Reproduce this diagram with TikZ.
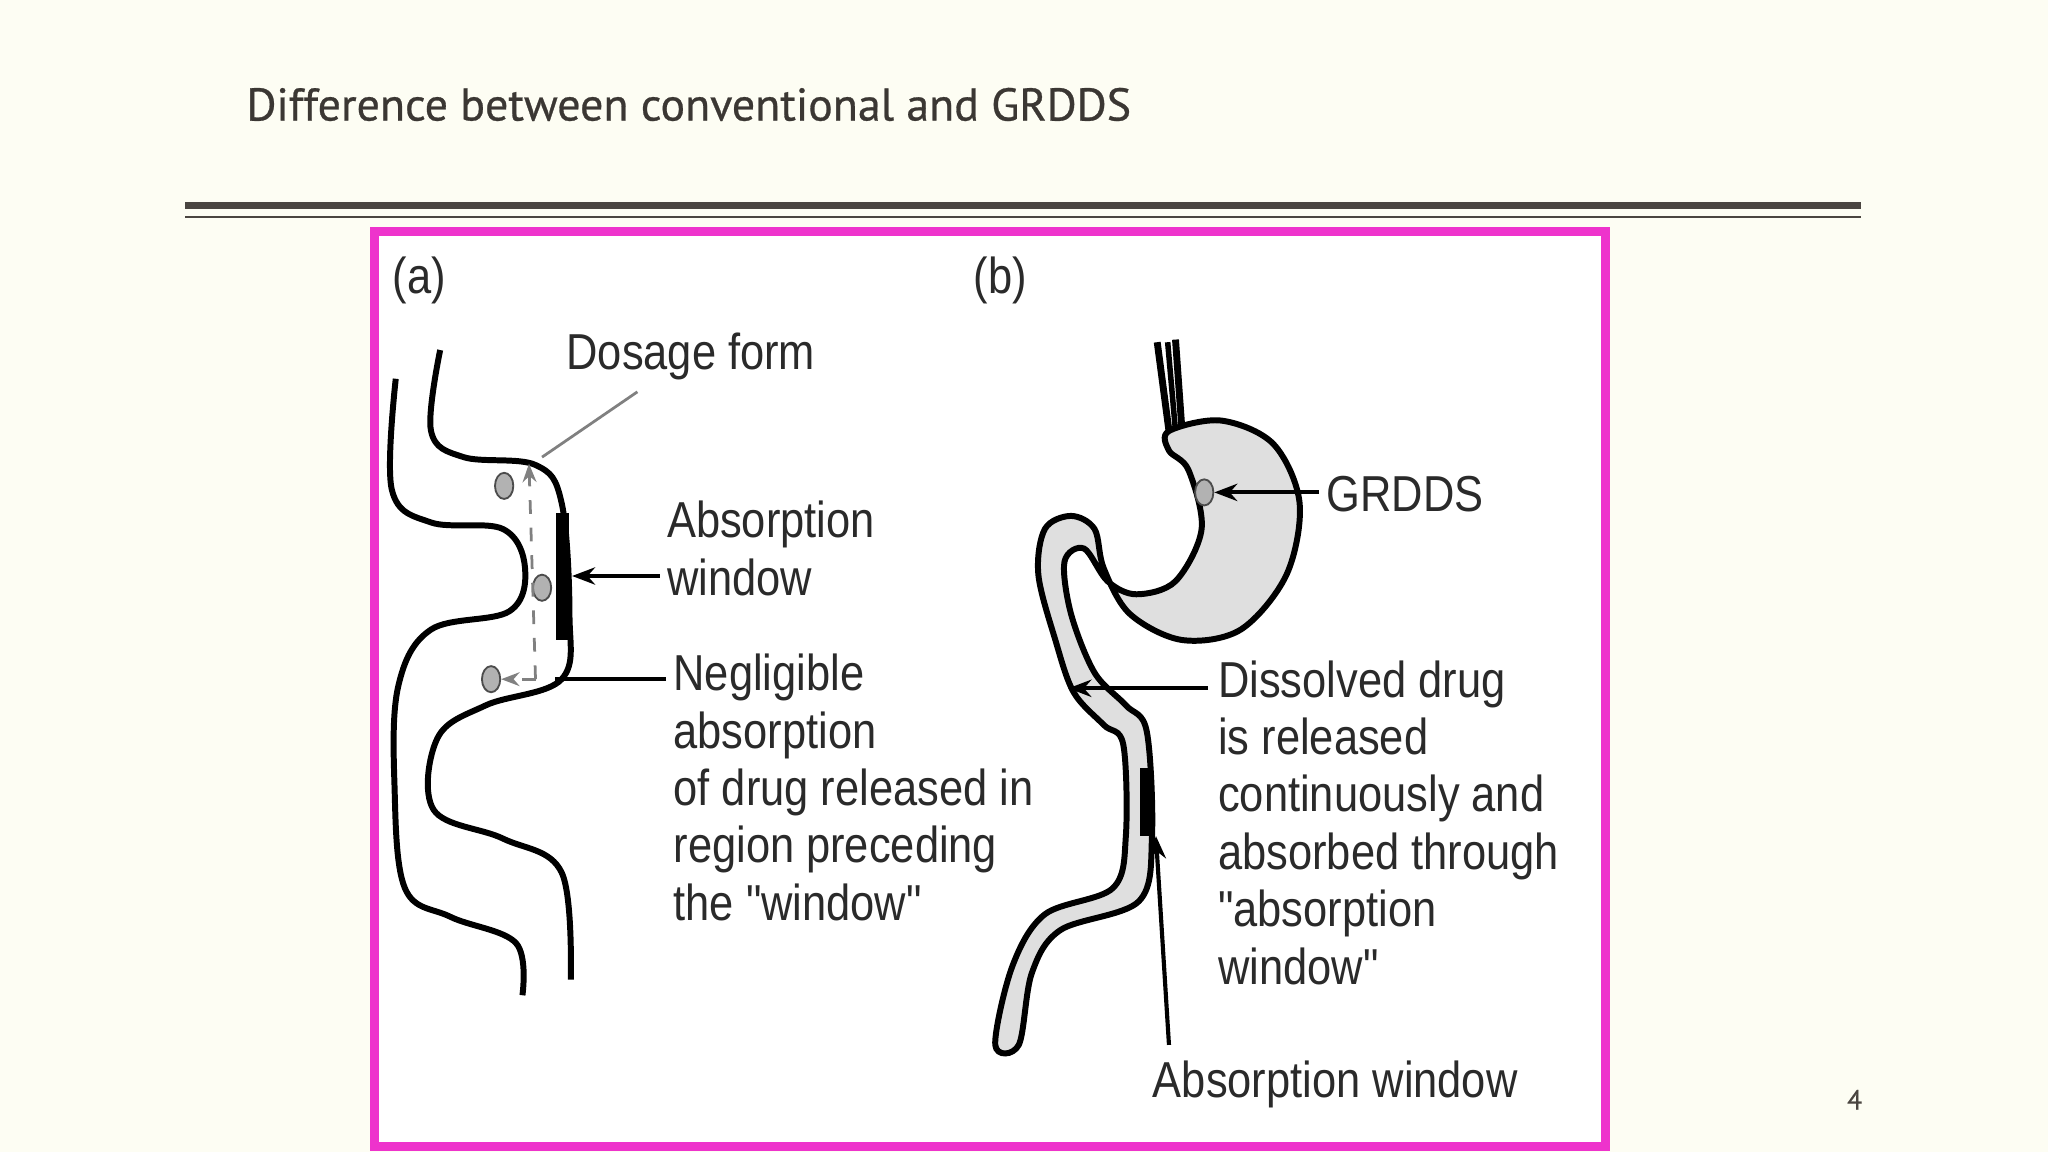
\documentclass[tikz,border=0pt]{standalone}
\usepackage{fontspec}
\setmainfont{Liberation Sans}
\newfontfamily\narrowfont[FakeStretch=0.86]{Liberation Sans}
\newfontfamily\titlefont[FakeBold=0.6]{PT Sans}
\usetikzlibrary{arrows.meta,shapes.geometric}
\definecolor{bg}{HTML}{FDFDF3}
\definecolor{rule}{HTML}{4A4540}
\definecolor{frame}{HTML}{EE33CC}
\definecolor{txt}{HTML}{2A2A2A}
\newcommand{\qd}{\symbol{34}}
\tikzset{
 lbl/.style={anchor=west,inner sep=0pt,font=\narrowfont\fontsize{11pt}{12.5pt}\selectfont,text=txt,align=left},
 wall/.style={line width=1.3pt,black},
 pellet/.style={ellipse,draw=black!70,fill=gray!60,minimum width=0.14cm,minimum height=0.2cm,inner sep=0pt},
 ptr/.style={line width=0.9pt,-{Stealth[length=5pt]}}
}
\begin{document}
\begin{tikzpicture}[x=0.01cm,y=-0.01cm]
\useasboundingbox (0,0) rectangle (1568,882);
\fill[bg] (0,0) rectangle (1568,882);
\node[anchor=west,inner sep=0pt,font=\titlefont\fontsize{10pt}{12pt}\selectfont,text=rule!80!black] (title) at (188,80) {Difference between conventional and GRDDS};
\draw[rule,line width=1.5pt] (142,157) -- (1425,157);
\draw[rule,line width=0.5pt] (142,166) -- (1425,166);
\draw[frame,line width=2pt,fill=white] (287,177) rectangle (1229,878);
\node[font=\titlefont\fontsize{6pt}{7pt}\selectfont,text=rule] (pg) at (1420,842) {4};
\node[lbl] (la) at (300,215) {(a)};
\node[lbl] (lb) at (745,215) {(b)};
% panel a walls
\draw[wall] plot[smooth,tension=0.6] coordinates {(303,290) (300,375) (330,400) (385,405) (402,435) (390,468) (330,482) (305,525) (302,600) (310,680) (345,702) (395,722) (400,762)};
\draw[wall] plot[smooth,tension=0.6] coordinates {(337,268) (330,330) (355,350) (410,356) (430,385) (436,470) (430,520) (372,540) (335,565) (332,620) (385,642) (430,668) (437,750)};
\fill[black] (426,393) rectangle (436,490);
\node[pellet] (p1) at (386,372) {};
\node[pellet] (p2) at (415,450) {};
\node[pellet] (p3) at (376,520) {};
\coordinate (dtop) at (405,355);
\coordinate (dbot) at (410,520);
\draw[dashed,gray,line width=0.6pt,-{Stealth[length=4pt]}] (dbot) -- (dtop);
\draw[dashed,gray,line width=0.6pt,-{Stealth[length=4pt]}] (dbot) -- (p3);
\node[lbl] (dose) at (433,273) {Dosage form};
\coordinate (dose1) at (488,300);
\coordinate (dose2) at (415,350);
\draw[gray,line width=0.6pt] (dose1) -- (dose2);
\node[lbl] (abs) at (510,420) {Absorption\\window};
\coordinate (absA) at (505,441);
\coordinate (absB) at (438,441);
\draw[ptr] (absA) -- (absB);
\node[lbl,anchor=north west] (neg) at (515,500) {Negligible\\absorption\\of drug released in\\region preceding\\the \qd window\qd};
\coordinate (negA) at (510,520);
\coordinate (negB) at (425,520);
\draw[line width=0.8pt] (negA) -- (negB);
% panel b
\draw[line width=1.5pt] (886,262) -- (895,330);
\draw[line width=1.5pt] (900,260) -- (905,330);
\draw[line width=1.2pt] (894,262) -- (900,330);
\draw[wall,fill=gray!25] plot[smooth cycle,tension=0.55] coordinates {(895,330) (935,322) (975,340) (995,385) (985,440) (950,482) (905,490) (865,470) (845,435) (838,405) (820,395) (800,405) (795,440) (808,490) (822,530) (845,555) (860,570) (862,640) (852,680) (800,700) (775,740) (762,800) (780,800) (790,745) (812,712) (872,690) (882,640) (878,560) (862,540) (838,515) (820,470) (815,430) (830,420) (848,445) (870,455) (900,445) (920,405) (910,360) (895,345)};
\fill[black] (873,588) rectangle (881,640);
\node[pellet] (g) at (922,377) {};
\node[lbl] (grdds) at (1015,378) {GRDDS};
\coordinate (gA) at (1010,377);
\draw[ptr] (gA) -- (g);
\node[lbl,anchor=north west] (diss) at (932,505) {Dissolved drug\\is released\\continuously and\\absorbed through\\\qd absorption\\window\qd};
\coordinate (dA) at (925,527);
\coordinate (dB) at (818,527);
\draw[ptr] (dA) -- (dB);
\node[lbl] (aw) at (882,830) {Absorption window};
\coordinate (awA) at (895,800);
\coordinate (awB) at (885,640);
\draw[ptr] (awA) -- (awB);
\end{tikzpicture}
\end{document}
